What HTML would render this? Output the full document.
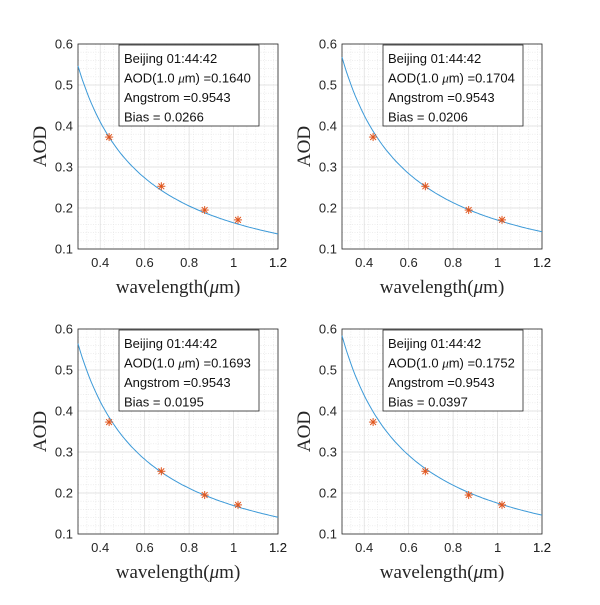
<!DOCTYPE html>
<html><head><meta charset="utf-8"><style>
body{margin:0;background:#fff;width:600px;height:600px;overflow:hidden}
svg text{font-family:"Liberation Sans",sans-serif}
</style></head><body>
<svg id="s" width="600" height="600" xmlns="http://www.w3.org/2000/svg"></svg>
<script>
const s=document.getElementById('s');let h='';
const panels=[[78,44,0.1640,'0.0266'],[342,44,0.1704,'0.0206'],[78,329,0.1693,'0.0195'],[342,329,0.1752,'0.0397']];
const W=200,H=205;
const pts=[[0.44,0.373],[0.675,0.253],[0.87,0.195],[1.02,0.171]];
for(const [x0,y0,a,bias] of panels){
 const X=v=>x0+(v-0.3)/0.9*W, Y=v=>y0+H-(v-0.1)/0.5*H;
 for(let v=0.3;v<1.2001;v+=0.04){h+=`<line x1="${X(v)}" y1="${y0}" x2="${X(v)}" y2="${y0+H}" stroke="#e4e4e4" stroke-width="0.6" stroke-dasharray="1,1.5"/>`}
 for(let v=0.1;v<0.6001;v+=0.02){h+=`<line x1="${x0}" y1="${Y(v)}" x2="${x0+W}" y2="${Y(v)}" stroke="#e4e4e4" stroke-width="0.6" stroke-dasharray="1,1.5"/>`}
 for(let v=0.4;v<1.2001;v+=0.2){h+=`<line x1="${X(v)}" y1="${y0}" x2="${X(v)}" y2="${y0+H}" stroke="#dcdcdc" stroke-width="0.7"/>`;
  h+=`<text x="${X(v)}" y="${y0+H+18}" font-size="13" fill="#262626" text-anchor="middle">${(+v.toFixed(1)).toString()}</text>`;}
 h+=`<text x="${X(1.2)}" y="${y0+H+18}" font-size="13" fill="#262626" text-anchor="middle">1.2</text>`;
 for(let v=0.1;v<0.6001;v+=0.1){h+=`<line x1="${x0}" y1="${Y(v)}" x2="${x0+W}" y2="${Y(v)}" stroke="#dcdcdc" stroke-width="0.7"/>`;
  h+=`<text x="${x0-5}" y="${Y(v)+4.5}" font-size="13" fill="#262626" text-anchor="end">${v.toFixed(1)}</text>`;}
 h+=`<rect x="${x0}" y="${y0}" width="${W}" height="${H}" fill="none" stroke="#262626" stroke-width="0.8"/>`;
 let d='';for(let v=0.3;v<=1.2001;v+=0.01){const y=a/v;d+=(d?'L':'M')+X(v).toFixed(1)+','+Math.max(Y(y),y0).toFixed(1)}
 h+=`<path d="${d}" fill="none" stroke="#3d9ad8" stroke-width="1"/>`;
 for(const [px,py] of pts){const cx=X(px),cy=Y(py),r=4,q=2.9;
  h+=`<g stroke="#e0561e" stroke-width="1"><line x1="${cx-r}" y1="${cy}" x2="${cx+r}" y2="${cy}"/><line x1="${cx}" y1="${cy-r}" x2="${cx}" y2="${cy+r}"/><line x1="${cx-q}" y1="${cy-q}" x2="${cx+q}" y2="${cy+q}"/><line x1="${cx-q}" y1="${cy+q}" x2="${cx+q}" y2="${cy-q}"/></g>`;}
 const bx=x0+41,by=y0+1;
 h+=`<rect x="${bx}" y="${by}" width="140" height="81" fill="#fff" stroke="#262626" stroke-width="0.8"/>`;
 const L=['Beijing 01:44:42',`AOD(1.0 <tspan font-family="Liberation Serif" font-style="italic">μ</tspan>m) =${a.toFixed(4)}`,'Angstrom =0.9543',`Bias = ${bias}`];
 L.forEach((t,i)=>{h+=`<text x="${bx+5}" y="${by+18+i*19.5}" font-size="13" fill="#111">${t}</text>`});
 h+=`<text x="${x0+W/2}" y="${y0+H+44}" font-size="19" fill="#262626" text-anchor="middle" style="font-family:'Liberation Serif',serif">wavelength(<tspan font-style="italic">μ</tspan>m)</text>`;
 h+=`<text transform="translate(${x0-32},${y0+H/2}) rotate(-90)" font-size="19" fill="#262626" text-anchor="middle" style="font-family:'Liberation Serif',serif">AOD</text>`;
}
s.innerHTML=h;
</script>
</body></html>
